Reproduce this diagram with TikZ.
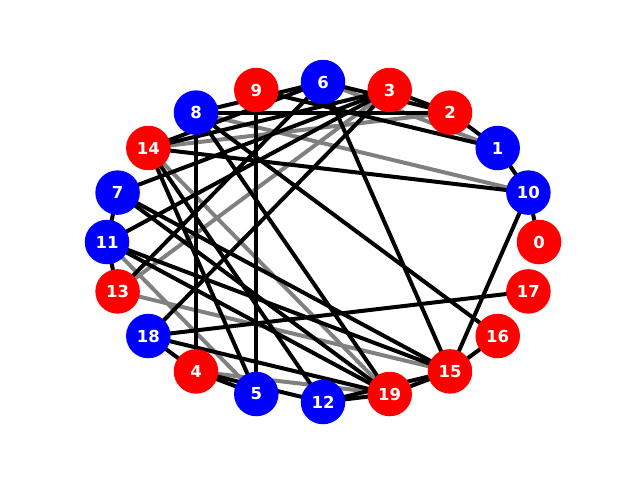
\documentclass[tikz,border=0pt]{standalone}
\usepackage{fontspec}
\setmainfont{DejaVu Sans}
\usetikzlibrary{backgrounds}
\tikzset{
  vtx/.style={circle, minimum size=44.5pt, inner sep=0pt, text=white, font=\bfseries\fontsize{16.5}{19}\selectfont},
  rv/.style={vtx, fill={rgb,255:red,255;green,0;blue,0}},
  bv/.style={vtx, fill={rgb,255:red,0;green,0;blue,255}},
  be/.style={draw=black, line width=4pt},
  ge/.style={draw={rgb,255:red,128;green,128;blue,128}, line width=4pt},
}
\begin{document}
\begin{tikzpicture}[x=1pt,y=-1pt]
\useasboundingbox (0,0) rectangle (640,480);
\node[rv] (n0) at (539.0,242.0) {0};
\node[bv] (n10) at (528.4,192.6) {10};
\node[bv] (n1) at (497.7,148.0) {1};
\node[rv] (n2) at (450.0,112.6) {2};
\node[rv] (n3) at (389.7,90.0) {3};
\node[bv] (n6) at (323.0,82.0) {6};
\node[rv] (n9) at (256.3,90.0) {9};
\node[bv] (n8) at (196.0,112.6) {8};
\node[rv] (n14) at (148.3,148.0) {14};
\node[bv] (n7) at (117.6,192.6) {7};
\node[bv] (n11) at (107.0,242.0) {11};
\node[rv] (n13) at (117.6,291.4) {13};
\node[bv] (n18) at (148.3,336.0) {18};
\node[rv] (n4) at (196.0,371.4) {4};
\node[bv] (n5) at (256.3,394.0) {5};
\node[bv] (n12) at (323.0,402.0) {12};
\node[rv] (n19) at (389.7,394.0) {19};
\node[rv] (n15) at (450.0,371.4) {15};
\node[rv] (n16) at (497.7,336.0) {16};
\node[rv] (n17) at (528.4,291.4) {17};
\begin{pgfonlayer}{background}
\foreach \a/\b in {8/10,14/2,13/3,14/19,13/15,11/5,4/19,6/1}
  \path[ge] (n\a.center) -- (n\b.center);
\foreach \a/\b in {10/0,1/10,2/1,6/2,3/2,9/1,8/2,8/6,8/4,8/16,8/19,9/5,14/6,14/10,14/5,14/12,14/3,7/3,7/15,7/19,7/11,11/13,11/3,11/15,11/19,13/6,18/3,18/17,18/19,18/4,4/5,4/12,12/19,19/15,6/15,10/15,15/16,12/15}
  \path[be] (n\a.center) -- (n\b.center);
\end{pgfonlayer}
\end{tikzpicture}
\end{document}
